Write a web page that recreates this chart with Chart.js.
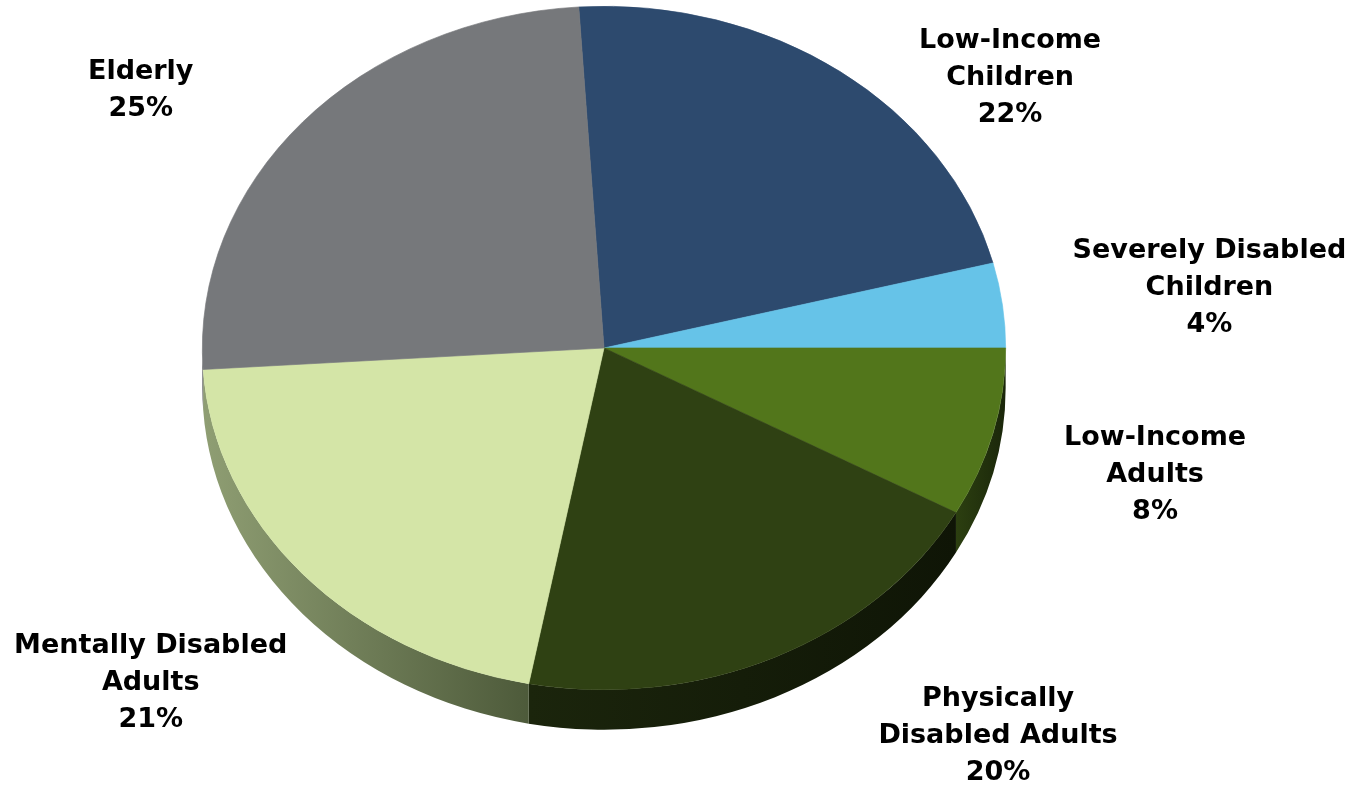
<!DOCTYPE html>
<html>
<head>
<meta charset="utf-8">
<title>Population shares</title>
<script src="https://cdn.jsdelivr.net/npm/chart.js@4.4.0/dist/chart.umd.min.js"></script>
<style>
    html, body { margin: 0; padding: 0; background: #fff; }
    #wrap { width: 1357px; height: 788px; }
</style>
</head>
<body>
<div id="wrap"><canvas id="pieChart" width="1357" height="788"></canvas></div>
<script>
// data (clockwise from the top)
const categories = [
    ['Low-Income', 'Children'],
    ['Severely Disabled', 'Children'],
    ['Low-Income', 'Adults'],
    ['Physically', 'Disabled Adults'],
    ['Mentally Disabled', 'Adults'],
    ['Elderly']
];
const shares = [22, 4, 8, 20, 21, 25];

// styling
const topColors = ['#2d4a6e', '#66c3e8', '#52761b', '#2f4113', '#d4e5a7', '#76787b'];
const sideLight = ['#1d2f47', '#3f7f98', '#2c3f10', '#1b250c', '#8f9e73', '#56585b'];
const sideDark = ['#18273b', '#356c82', '#1a260a', '#0f1506', '#4d5a3a', '#4a4c4f'];
const labelShift = [[170, 4], [207, -20], [162, 39], [223, 76], [-152, 106], [-162, -34]];

const STRETCH = 402 / 342;   // pie is wider than tall (tilted)
const DEPTH = 40;            // thickness of the pie
const LINE_H = 37;
const FONT_PX = 27;

function arcGeom(chart) {
    const arcs = chart.getDatasetMeta(0).data;
    const a = arcs[0];
    return { arcs, cx: a.x, cy: a.y, ry: a.outerRadius, rx: a.outerRadius * STRETCH };
}

const pie3d = {
    id: 'pie3d',
    beforeDatasetsDraw(chart) {
        const ctx = chart.ctx;
        const g = arcGeom(chart);

        // side walls: only the front half (0..PI) shows
        g.arcs.forEach((arc, i) => {
            [[0, Math.PI], [2 * Math.PI, 3 * Math.PI]].forEach(([lo, hi]) => {
                const s = Math.max(arc.startAngle, lo);
                const e = Math.min(arc.endAngle, hi);
                if (e - s <= 0.001) return;
                const x1 = g.cx + g.rx * Math.cos(e);
                const x2 = g.cx + g.rx * Math.cos(s);
                const grad = ctx.createLinearGradient(Math.min(x1, x2), 0, Math.max(x1, x2) + 1, 0);
                grad.addColorStop(0, sideLight[i]);
                grad.addColorStop(1, sideDark[i]);
                ctx.save();
                ctx.beginPath();
                ctx.ellipse(g.cx, g.cy, g.rx, g.ry, 0, s, e);
                ctx.ellipse(g.cx, g.cy + DEPTH, g.rx, g.ry, 0, e, s, true);
                ctx.closePath();
                ctx.fillStyle = grad;
                ctx.fill();
                ctx.restore();
            });
        });

        // squash the round pie into the tilted ellipse
        ctx.save();
        ctx.translate(g.cx, g.cy);
        ctx.scale(STRETCH, 1);
        ctx.translate(-g.cx, -g.cy);
    },
    afterDatasetsDraw(chart) {
        chart.ctx.restore();
    },
    afterDraw(chart) {
        const ctx = chart.ctx;
        const g = arcGeom(chart);
        ctx.save();
        ctx.font = `bold ${FONT_PX}px "DejaVu Sans", Verdana, sans-serif`;
        ctx.fillStyle = '#000';
        ctx.textAlign = 'center';
        ctx.textBaseline = 'alphabetic';
        g.arcs.forEach((arc, i) => {
            const mid = (arc.startAngle + arc.endAngle) / 2;
            const px = g.cx + g.rx * Math.cos(mid) + labelShift[i][0];
            const py = g.cy + g.ry * Math.sin(mid) + labelShift[i][1];
            const lines = categories[i].concat([shares[i] + '%']);
            lines.forEach((txt, k) => {
                const lineMid = py + (k - (lines.length - 1) / 2) * LINE_H;
                ctx.fillText(txt, px, lineMid + FONT_PX * 0.729 / 2);
            });
        });
        ctx.restore();
    }
};

new Chart(document.getElementById('pieChart'), {
    type: 'pie',
    data: {
        labels: categories.map(c => c.join(' ')),
        datasets: [{
            data: shares,
            backgroundColor: topColors,
            borderColor: topColors,
            borderWidth: 0.6,
            clip: false
        }]
    },
    options: {
        responsive: false,
        animation: false,
        rotation: -3.6,
        events: [],
        layout: { padding: { left: 150, right: 299, top: 6, bottom: 98 } },
        plugins: {
            legend: { display: false },
            tooltip: { enabled: false }
        }
    },
    plugins: [pie3d]
});
</script>
</body>
</html>
